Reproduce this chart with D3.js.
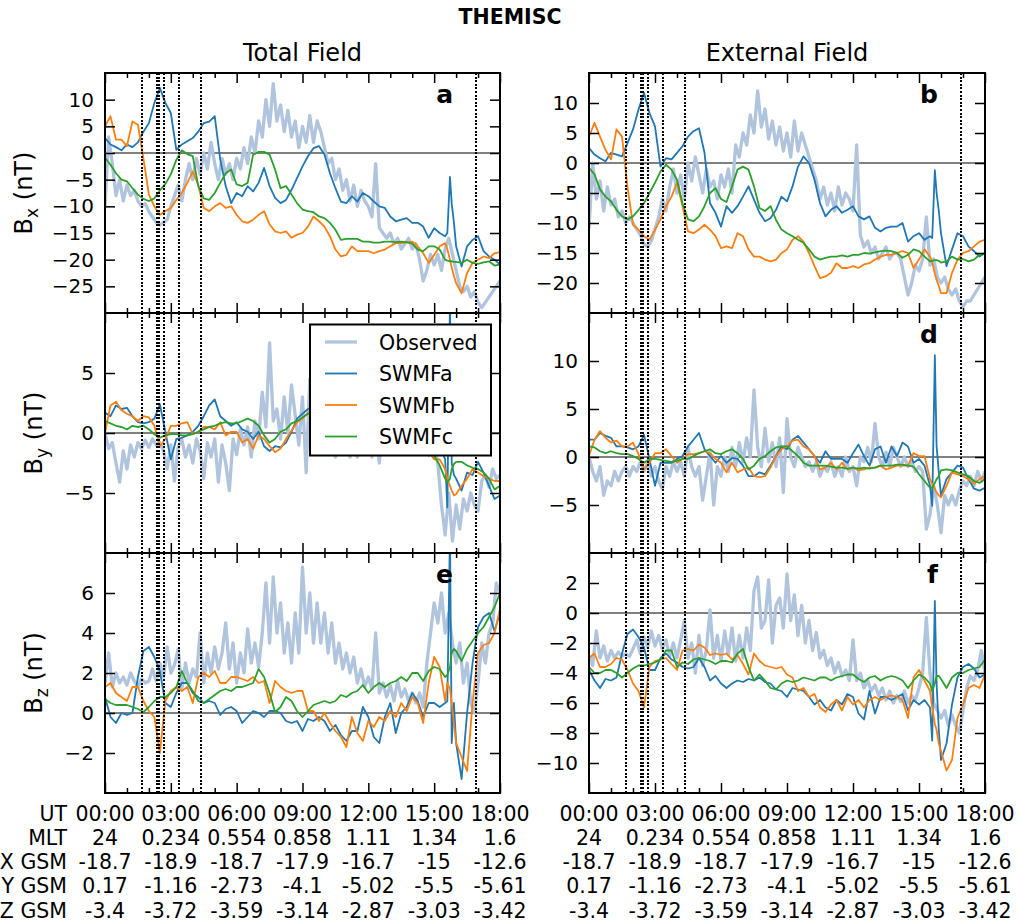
<!DOCTYPE html>
<html><head><meta charset="utf-8">
<script src="https://cdn.jsdelivr.net/npm/d3@7"></script>
<style>body{margin:0;background:#fff} text{font-family:"DejaVu Sans",sans-serif}</style>
</head><body><svg id="chart" width="1020" height="924"></svg>
<script>
// ---------- DATA ----------
const chartTitle = "THEMISC";
const columnTitles = ["Total Field", "External Field"];
const seriesNames = ["Observed", "SWMFa", "SWMFb", "SWMFc"];
const seriesColors = ["#b0c4de", "#1f77b4", "#ff7f0e", "#2ca02c"];

// sample times (hours) for model series
const tMod = [0,0.25,0.5,0.75,1,1.25,1.5,1.75,2,2.25,2.5,2.75,3,3.25,3.5,3.75,4,4.25,4.5,4.75,
  5,5.25,5.5,5.75,6,6.25,6.5,6.75,7,7.25,7.5,7.75,8,8.25,8.5,8.75,9,9.25,9.5,9.75,
  10,10.25,10.5,10.75,11,11.25,11.5,11.75,12,12.25,12.5,12.75,13,13.25,13.5,13.75,14,14.25,14.5,14.75,
  15,15.25,15.5,15.6,15.72,15.8,15.9,16,16.25,16.5,16.75,17,17.25,17.5,17.75,18];
const obsStepHours = 1/6;   // observed series sampled every 10 minutes

// vertical dotted marker times (hours)
const markerTimes = [1.68, 2.37, 2.45, 2.68, 3.37, 4.37, 16.92];

// bottom axis rows
const tickHours = [0,3,6,9,12,15,18];
const rowHeaders = ["UT","MLT","X GSM","Y GSM","Z GSM"];
const utLabels  = ["00:00","03:00","06:00","09:00","12:00","15:00","18:00"];
const mltLabels = ["24","0.234","0.554","0.858","1.11","1.34","1.6"];
const xgsmLabels = ["-18.7","-18.9","-18.7","-17.9","-16.7","-15","-12.6"];
const ygsmLabels = ["0.17","-1.16","-2.73","-4.1","-5.02","-5.5","-5.61"];
const zgsmLabels = ["-3.4","-3.72","-3.59","-3.14","-2.87","-3.03","-3.42"];

// ---- panel a : Bx total ----
const aObs = [
 -10,3,-2,-8,-5,-9, -6,-8,-7,-9,-10,-9.5, -11,-12,-13,-13.5,-13,-12.5, -10,-8,-6,-9,-5,-2,
 -5,-1,-4,0,-3,2, -2,-5,-1,-4,-2,-5, -1,-3,1,-2,3,0, 6,3,10,5,13,6, 9,4,8,3,6,1,
 5,2,7,2,6,4, 1,-2,-1,-5,-3,-7, -5,-9,-6,-10,-7,-9, -10,-12,-2,-14,-15,-16, -15,-17,-16,-18,-17,-16,
 -18,-17,-20,-24,-22,-19, -21,-19,-22,-18,-16,-19, -22,-25,-26,-25,-27,-26, -28,-29,-28,-27,-26,-25, -24];
const aA = [
 2.8,1.6,1.1,0.5, 1.6,1.1,2.0,4.0, 5.6,9.4,12.2,9.4, 7.5,0.6,1.6,2.2, 2.8,4.0,5.6,5.9,
 6.9,-1.2,-6.2,-9.4, -7.5,-8.1,-6.2,-7.2, -5.6,-2.8,-6.2,-8.4, -9.4,-8.8,-6.9,-4.7, -2.5,-0.6,0.9,1.3,
 -0.3,-3.8,-6.6,-9.1, -9.4,-8.1,-9.1,-7.5, -8.1,-9.1,-10,-10.3, -11.9,-12.8,-12.5,-12.2, -13.1,-13.1,-13.8,-15.9,
 -14.1,-15,-15.6, -15,-4.5,-9.5,-13,
 -17.5,-21.3,-17.5,-16.3, -15.6,-18.4,-19.4,-20, -20.9];
const aB = [
 5,6.9,2.5,2.5, 1.3,5.9,5.3,-1, -7.8,-10,-11.6,-10.9, -10.3,-8.8,-7.5,-5.6, -3.5,-6,-10.3,-10.9,
 -10,-9.4,-10.3,-10, -11.6,-12.8,-13.1,-12.5, -11.6,-10.9,-13.4,-14.7, -15,-14.7,-15.9,-15.3, -15,-13.8,-11.9,-12.8,
 -13.8,-15.6,-18.1,-19.4, -19.1,-17.5,-18.4,-18.4, -18.4,-18.8,-18.4,-18.1, -17.5,-16.9,-16.9,-16.8, -16.6,-17.5,-18.8,-20.6,
 -19.1,-17.5,-16.9, -18,-20,-21.5,-23,
 -24.4,-26.3,-22.5,-20.6, -20,-19.4,-19.7,-18.8, -18.6];
const aC = [
 -0.9,-2.2,-3.8,-5, -5.3,-6.6,-7.8,-8.6, -9,-8.5,-7,-5.8, -4,-1.3,0.5,-0.2, -0.6,-6.2,-8.5,-8.8,
 -7.5,-5.6,-3.8,-3.1, -5.9,-6.2,-5.6,-0.3, 0.2,0.2,-0.3,-3.1, -6.6,-6.2,-7.8,-9.4, -10.6,-10.9,-11.1,-11.9,
 -12.2,-13.1,-14.4,-16.3, -16.1,-16.1,-16.1,-16.6, -16.6,-16.8,-16.8,-16.6, -16.6,-16.7,-16.6,-16.7, -17,-18.1,-18.4,-17.5,
 -17.5,-18.1,-20, -20.2,-20.3,-20.3,-20.4,
 -20.4,-20.6,-20,-20.6, -20.8,-20.5,-20.3,-21.1, -20.9];

// ---- panel b : Bx external ----
const bObs = [
 -11,0,-6,-3,-8,-4, -7,-6,-9,-8,-10,-9, -10,-11,-12,-13.5,-14,-13, -11,-9,-6,-8,-4,-1,
 -5,-2,-6,0,-3,1, -2,-5,-1,-4,-3,-6, -2,-4,-1,-5,3,1, 5,3,8,5,12,6, 9,4,7,3,6,2,
 5,1,7,2,5,3, 1,-1,-3,-6,-4,-7, -5,-8,-4,-7,-5,-6, -8,3,-12,-14,-13,-15, -14,-16,-15,-14,-16,-15,
 -15,-16,-19,-22,-20,-17, -18,-16,-9,-17,-16,-19, -20,-19,-21,-22,-21,-23, -24,-23,-23,-22,-21,-20, -19];
const bA = [
 2.5,1.4,0.8,0.3, 1.7,1.4,1.1,3.3, 5.6,8.9,11.7,8.3, 6.1,-0.6,0.8,0.6, 1.7,2.8,4.4,5.3,
 5.8,1.7,-6.7,-8.3, -10.6,-7.2,-8.3,-7.2, -5.6,-3.9,-6.1,-8.3, -9.7,-9.2,-7.8,-5.6, -6.4,-3.9,-0.6,1.1,
 0,-2.8,-6.7,-8.9, -7.8,-7.2,-8.3,-7.8, -7.2,-8.9,-9.4,-8.9, -10.8,-11.4,-10.8,-10.6, -10.6,-10,-13.1,-12.2,
 -11.7,-12.8,-12.2, -12.5,-1.2,-5,-8,
 -11.7,-17.2,-14.4,-11.7, -12.2,-13.9,-14.7,-15.6, -15];
const bB = [
 4.4,6.7,4.4,2.2, 0.6,5.6,4.4,-4, -10.3,-11.1,-12.2,-12.8, -11.1,-9.4,-7.2,-5.6, -3.3,-7.2,-11.4,-11.7,
 -11.1,-10.3,-11.1,-12.2, -14.2,-13.9,-14.2,-11.7, -12.2,-14.4,-15.6,-15.6, -16.1,-16.4,-16.1,-15, -14.4,-12.8,-12.2,-13.1,
 -15,-17.2,-19.2,-18.9, -18.3,-16.7,-17.5,-17.5, -17.2,-17.5,-16.9,-16.7, -16.1,-15.6,-15.3,-15.3, -15,-14.7,-15,-17.5,
 -16.1,-14.4,-15.6, -16.5,-18.5,-19.5,-20.5,
 -21.7,-21.7,-18.3,-16.1, -15,-14.7,-13.9,-13.1, -12.8];
const bC = [
 -0.8,-1.9,-4.4,-5.6, -6.4,-7.8,-8.9,-9.4, -8.9,-7.8,-6.7,-5, -3.3,-1.4,-0.3,-1.1, -2.8,-6.7,-9.4,-9.7,
 -8.9,-7.2,-5,-4.2, -6,-6.5,-3.9,-1.1, -0.6,-1.1,-3.9,-7.5, -8,-7.2,-9.5,-11.1, -11.7,-12.2,-12.8,-13.3,
 -14.4,-15.6,-16.1,-15.8, -15.6,-15.6,-15.4,-15.6, -15.3,-15.3,-15,-15.1, -14.9,-14.7,-14.6,-14.7, -15,-15.8,-15.3,-14.4,
 -14.7,-15.6,-16.4, -16.3,-16.2,-16.2,-16.3,
 -16.6,-16.4,-15.6,-16.1, -16,-16.4,-16.1,-15.3, -15.1];

// ---- panel c : By total ----
const cObs = [
 0,-1.3,-0.8,-2.5,-4.1,-1.5, -3,-1,-2,-0.8,-1.3,-0.6, -1.2,-0.5,-1,-0.8,-1.5,-3, -1,-4,-1.2,-0.5,-2,-1,
 -2.5,-0.5,-1.5,-3.8,-0.8,-2, -0.5,-4.1,-1,-2.5,-4.8,-0.5, -1.8,0.3,-1,0.5,-2,1, -0.5,3.4,0.5,7.5,1,2, -0.5,3,0,4,1.5,-1,
 3,-3.3,4.5,1,0,-1, -0.5,-1.5,-0.5,-2,-1,-1.5, -0.5,-2,-1,-2,0,-1.5, -1,-2,0,-2.5,1,-0.5, 2,0,-1,0.5,-1,1,
 0,-1,0,-1.5,-1,-1.5, -1,-2.5,-6,-8.5,-5,-9, -6,-8,-5.5,-6.5,-5,-6, -6.5,-4,-3.5,-4.5,-3,-3.8, -3.5];
const cA = [
 1.7,1.4,2.3,2, 2.1,1.4,0.9,0.8, 0.9,1.2,2.4,0.1, -2.2,-0.5,-0.4,-0.2, 0.1,0.6,1.4,2.3,
 2.8,1.4,1,0.6, 0.9,0.3,0.1,-0.5, 0.1,-1.1,-1.5,-1.1, -1.2,-0.8,0.1,1.2, 1.6,2,2.2,1.5,
 0.8,0.1,-0.6,0.6, -0.2,-0.2,-0.2,-0.6, 0.4,1.3,0.1,-0.9, 0.8,1.1,-0.6,1.1, 0.1,1.5,1.1,-1.9,
 -1,-1.1,-2.2, -6.2,11,-2.5,-3.5,
 -3.8,-4.8,-3.3,-3.5, -2.4,-3.3,-4.4,-5.5, -5.2];
const cB = [
 0,2.3,2.6,1.9, 1.6,1.4,1,1.4, 1.3,0.6,-1.1,-0.5, 0.6,0.6,0.8,0.9, -0.1,0.1,0.5,0.5,
 0.3,0.9,-0.2,0.1, 0.1,-0.8,-0.5,-1.3, -0.2,-0.5,-1.1,-1.6, -1.3,-0.5,0.2,0.9, 1.2,1.7,1.8,1.1,
 0.8,0.1,-1.3,-1.1, -0.6,-1.3,-0.6,-1.3, -1.1,-1.4,-1.3,-1.1, -1.1,-0.9,-1.3,-1.1, -0.9,-0.9,-0.9,-1.5,
 -2.2,-2.2,-3, -3.8,-4.4,-4.8,-5.2,
 -5.1,-4.4,-3.8,-3, -3.3,-3.6,-3.8,-4, -4];
const cC = [
 1,0.8,0.6,0.5, 0.3,0.6,0.5,0.6, 0.3,-0.1,-0.4,-0.2, -0.1,-0.1,-0.2,-0.2, -0.1,0.1,0.3,0.5,
 0.6,0.8,0.9,0.8, 0.8,1,1.2,1, 0.6,-0.2,-0.8,-0.5, 0.1,0.3,0.8,1, 1.3,1.6,1.6,1.2,
 0.8,0.4,0,-0.3, -0.5,-0.6,-0.7,-0.8, -0.8,-0.8,-0.8,-0.8, -0.8,-0.7,-0.7,-0.7, -0.6,-0.7,-1,-1.5,
 -1.9,-2.7,-3.8, -4.1,-3.8,-3,-2.6,
 -2.4,-2.4,-2.7,-2.9, -3,-3.3,-3.8,-4.7, -4.4];

// ---- panel d : By external ----
const dObs = [
 0,-1.5,-2.5,-1,-4,-2.5, -3,-1.5,-2.5,-1.5,-1,-2, -1,-1.5,-0.5,-1.5,-0.5,-2, -1,-2.5,-3.3,-1,-2,-0.5,
 -1.5,-0.5,-2,1,-1,-2, -1,-4.5,-2,0.5,-5,-1, -2,0,-1.5,1,-1,1.5, -0.5,2,0,7,1,-1, 3,-0.5,1.5,-1,2,-3.7,
 4,0,-1,1,0,-1, -0.5,-1.5,-0.5,-2,-1,-1.5, -0.5,-2,-1,-2,0,-1.5, -1,-3,0,-0.5,1,-0.5, 3.5,0,-1,0.5,-1,1,
 0,-1,0,-1,-0.5,-1.5, -1,-1.5,-7.5,-6,-3,-5, -7.9,-4,-5,-4,-5,-3.5, -2.5,-3,-2,-3,-1.5,-2.5, -1.5];
const dA = [
 1.8,1.8,2.5,2.2, 2,1.1,1.1,1, 0.8,1.1,2.3,-0.2, -3,-0.6,-0.6,-0.6, -0.2,0.1,1.1,1.8,
 2.5,0.8,0.1,-0.6, 0.1,-0.6,-0.1,-0.2, -0.9,-2,-2,-1.6, -1.8,-0.9,0.1,1.1, 0.8,1.8,2.2,1.5,
 0.8,0.1,-0.6,0.6, -0.2,-0.2,-0.2,-0.6, 0.4,1.3,0.1,-0.9, 0.8,1.1,-0.6,1.1, 0.1,1.5,1.1,-0.6,
 -0.2,-0.9,-3, -5.1,10.6,1.1,-1.6,
 -4,-2.3,-1.6,-0.9, -1.1,-2.3,-3.3,-3.5, -3.2];
const dB = [
 0.1,1.8,2.7,2, 1.5,1.7,1.1,1.1, 1.5,0.3,-1.3,-0.6, 0.4,0.4,0.8,0.1, -0.6,-0.2,0.3,0.3,
 0.4,0.6,0.4,-0.2, -0.6,-1.6,-0.6,-1.6, -1.3,-1.1,-2,-2.1, -2,-1.1,0.1,0.8, 1.1,1.7,1.8,1.1,
 0.8,0.1,-1.3,-1.1, -0.6,-1.3,-0.6,-1.3, -1.1,-1.4,-1.3,-1.1, -1.1,-0.9,-1.3,-1.1, -0.9,-0.9,-0.9,0.4,
 0.1,0.1,-2.3, -2.8,-3.3,-3.7,-4,
 -4.2,-3,-1.6,-1.8, -2,-2.3,-2.8,-2.3, -2];
const dC = [
 1.1,1,0.6,0.4, 0.6,0.4,0.3,0.3, 0.1,-0.2,-0.6,-0.2, -0.2,-0.3,-0.4,-0.5, -0.4,-0.2,-0.2,0.1,
 0.4,0.6,0.8,0.4, 0.3,0.6,0.8,0.4, -0.2,-1.3,-0.9,-0.2, 0.1,0.6,1,1.1, 1.1,0.6,0.1,-0.6,
 -0.9,-0.9,-0.9,-0.9, -1,-1.1,-1.1,-1.2, -1.1,-1.2,-1.1,-1.2, -1.1,-0.9,-0.9,-0.9, -0.8,-0.8,-0.9,-1,
 -1.8,-2.5,-3.2, -3.2,-2.7,-2.3,-2,
 -1.4,-1.3,-1.4,-1.6, -1.8,-2,-2.5,-2.7, -2.3];

// ---- panel e : Bz total ----
const eObs = [
 1.5,3,1.3,2,1.5,1.8, 1.4,2,1.6,1.3,1.7,1.5, 1.6,2.2,1.6,2.5,1.8,3.3, 2,2.4,3.2,1.2,2.5,1.5,
 2.2,1.8,4,1.5,3,2, 3.3,2.2,3,4.5,2.2,3.5, 1.5,3,2,4.2,2.5,3.5, 2.3,4,6.5,3.5,6.8,4, 5.5,3,4.5,2.5,5,3,
 7.3,4,6,3.5,5.5,3.5, 5,3,4.5,2.5,3.5,2.2, 3,2,2.8,1.5,2.2,1.3, 1.8,1.2,4,1,1.5,0.8, 1.4,0.6,1.6,0.8,1.2,0.6,
 1,0.5,1,0.3,2.5,4, 5.5,4.5,6,4,5,3.5, 2.5,3.5,1.5,2.5,0.5,0, 1.5,3.5,2.5,4,4.5,6.5, 6];
const eA = [
 0.8,-0.2,-0.5,0, -0.1,0,1.8,3.1, 3.3,2.8,2.1,0.5, 0.3,1,1.5,1.5, 1,0.8,0.5,0.6,
 0.5,-0.1,0.2,0.3, 0.1,-0.5,-0.2,0.1, 0,-0.2,0.1,0.1, 0,-0.4,-0.5,-0.4, -0.9,-0.3,-0.4,-0.2,
 -0.4,-0.9,-0.6,-1.1, -1.4,-0.9,-0.9,0.3, -0.2,-1.2,-1.5,-0.2, 0.5,-1,0,0.3, 1,0.6,-0.2,0.5,
 0.5,0.3,0.5, 0.6,9,-1.5,0.5,
 -1.5,-3.3,0,2.5, 4.3,4.8,5,4.1, 5];
const eB = [
 1.3,1.5,1,0.8, 0.6,1.3,1.3,0.6, 0.1,-0.2,-2,0.6, 1.1,1.3,1.1,1.3, 0.5,1.8,2,1.8,
 2.1,1.5,1.5,1.8, 1.8,1.7,1.6,1.8, 1.5,1.6,0.5,1.6, 1.3,1.1,1,1.1, 1.1,0.1,0.1,-0.4,
 0,-0.5,-0.9,-1.2, -1.7,-0.2,-1,-1.4, -0.4,-0.7,-0.2,-0.4, 0.1,-0.2,0.5,0.1, 0.8,0.5,-0.5,1.5,
 2.8,2.3,0.6, 1.5,1.2,0.5,-0.5,
 -1.5,-2.2,-2.9,0.5, 3,3.4,3.5,4, 5.2];
const eC = [
 0.7,0.5,0.4,0.4, 0.4,0.3,0.2,0.05, 0.3,0.6,0.8,0.8, 1,1.3,2.1,1.5, 1.1,0.6,0.5,0.7,
 0.9,1.1,1.2,1.1, 1.3,1.3,1.4,1.5, 2.2,1.8,1,0.05, 0.3,0.8,0.6,0.1, -0.2,0.1,0.4,0.5,
 0.6,0.5,0.6,0.9, 0.8,1,1.1,1.4, 1,1.3,1.5,1.3, 1.5,1.6,1.8,1.6, 2,2,1.6,2.1,
 2.3,2.2,1.8, 1.9,2.3,3,3.2,
 3.1,2.6,3.2,3.6, 4,4.3,4.8,5.3, 6];

// ---- panel f : Bz external ----
const fObs = [
 -2.8,-3.5,-1.2,-3,-2.2,-3.2, -2.5,-3,-2.6,-2.9,-2.7,-2.9, -2.4,-1.8,-2.7,-1.6,-2.3,-1.2, -2.2,-1.5,-2.4,-1.8,-2.9,-2,
 -3,-1.8,-0.5,-3,-2,-4, -1.5,-3.5,-2.5,0.2,-3,-1.5, -3.2,-1.2,-2.8,-1,-3.2,-1.5, -3,-1,-2.5,1.5,2.4,-1, -0.5,2.2,-2,0.5,1,-1,
 2.6,-0.5,1.2,-1.5,0.5,-2, -0.5,-2.5,-1.3,-3,-2.5,-3.5, -3,-4,-3.3,-4.2,-3.8,-4.5, -1.8,-4.5,-4,-5,-4.5,-5.2, -4.8,-5.5,-5,-5.8,-5.2,-6,
 -5.5,-5.9,-5.2,-6,-5.5,-5.8, -5,-4,-0.3,-4,-6,-6.5, -7,-6.5,-7.5,-6.8,-7.5,-8, -6.5,-5,-4.2,-4.5,-3.8,-2.5, -4];
const fA = [
 -3.8,-4.5,-5,-4.4, -4.5,-4.3,-2.7,-1.4, -1.1,-1.6,-2.3,-3.8, -3.8,-3,-2.7,-3.1, -3.3,-3.6,-3.7,-3.6,
 -3,-3.6,-4.5,-4.2, -4.7,-5,-4.7,-4.5, -4.6,-4.4,-4.5,-4.3, -4.6,-4.7,-5.1,-5.2, -5.6,-5,-5.1,-5.2,
 -5.6,-6.1,-5.8,-6.3, -6.5,-5.8,-6.1,-5.4, -5.6,-6.7,-7.1,-5.2, -6.7,-5.6,-5.6,-5.8, -5.6,-5.4,-6.5,-5.8,
 -6.1,-5.8,-6.3, -8.5,0.8,-4.7,-7.8,
 -9.8,-8.7,-6.1,-4.3, -3.6,-3.4,-3.7,-4.3, -4.1];
const fB = [
 -3,-2.7,-3.6,-3.6, -3.4,-3,-3.1,-3.8, -4.7,-5.2,-6.3,-3.6, -3.2,-3.1,-3,-3.4, -3.8,-2.5,-2.4,-2.5,
 -2.1,-2.3,-2.8,-2.7, -2.8,-2.7,-3.1,-2.8, -3.4,-4.1,-2.7,-3.2, -3.5,-3.6,-3.7,-3.6, -4.1,-4.3,-5.2,-5,
 -5.6,-5.4,-6.3,-6.6, -6.1,-5.8,-6.5,-5.6, -6.1,-5.8,-6.3,-5.8, -5.6,-5.8,-5.6,-5.5, -5.6,-5.8,-7,-4.3,
 -3.8,-4.5,-5.2, -6.3,-7.4,-7.8,-8.7,
 -9.2,-10.5,-9.8,-7, -6.1,-5,-4.8,-5, -4.1];
const fC = [
 -3.6,-4,-4,-3.8, -3.8,-4,-4.3,-4, -3.7,-3.5,-3.5,-3.4, -3.3,-3.1,-2.5,-2.5, -3.6,-3.3,-3.4,-3.1,
 -3,-3.1,-3.2,-3.4, -3.2,-3.2,-3.3,-2.7, -2.4,-3.6,-4.5,-4.1, -4.5,-5,-5.1,-4.7, -4.5,-4.6,-4.5,-4.3,
 -4.4,-4.5,-4.3,-4.3, -4.5,-4.3,-4.2,-4.1, -4.1,-4.4,-4.6,-4.3, -4.2,-4.5,-4.3,-4.2, -4.3,-4.5,-5,-4.5,
 -4.1,-4.3,-4.7, -5.2,-4.7,-4.2,-4.2,
 -4.4,-5,-4.3,-4, -4,-3.8,-3.7,-3.6, -3.1];

// y-axis domains and tick labels per panel
const aDomain = [-30,15], aTicks = [-25,-20,-15,-10,-5,0,5,10];
const bDomain = [-25,15], bTicks = [-20,-15,-10,-5,0,5,10];
const cDomain = [-10,10], cTicks = [-5,0,5];
const dDomain = [-10,15], dTicks = [-5,0,5,10];
const eDomain = [-4,8],   eTicks = [-2,0,2,4,6];
const fDomain = [-12,4],  fTicks = [-10,-8,-6,-4,-2,0,2];

// ---------- LAYOUT ----------
const W = 1020, H = 924;
const cols = [{x0:105, x1:500}, {x0:589, x1:985}];
const rows = [{y0:73, y1:313}, {y0:313, y1:553}, {y0:553, y1:793}];
const FONT = '"DejaVu Sans", sans-serif';

// panel 'c' letter is hidden behind the legend in the reference, so it is not drawn
const panels = [
  {key:'a', col:0, row:0, domain:aDomain, ticks:aTicks, obs:aObs, models:[aA,aB,aC], comp:'x', letter:true},
  {key:'b', col:1, row:0, domain:bDomain, ticks:bTicks, obs:bObs, models:[bA,bB,bC], letter:true},
  {key:'c', col:0, row:1, domain:cDomain, ticks:cTicks, obs:cObs, models:[cA,cB,cC], comp:'y', letter:false},
  {key:'d', col:1, row:1, domain:dDomain, ticks:dTicks, obs:dObs, models:[dA,dB,dC], letter:true},
  {key:'e', col:0, row:2, domain:eDomain, ticks:eTicks, obs:eObs, models:[eA,eB,eC], comp:'z', letter:true},
  {key:'f', col:1, row:2, domain:fDomain, ticks:fTicks, obs:fObs, models:[fA,fB,fC], letter:true},
];

const svg = d3.select('#chart');
svg.append('rect').attr('width', W).attr('height', H).attr('fill', '#fff');

svg.append('text').attr('x', 510).attr('y', 24).attr('text-anchor', 'middle')
  .style('font-family', FONT).style('font-size', '20.5px').style('font-weight', 'bold').text(chartTitle);
columnTitles.forEach((t, i) => {
  svg.append('text').attr('x', (cols[i].x0 + cols[i].x1) / 2).attr('y', 61).attr('text-anchor', 'middle')
    .style('font-family', FONT).style('font-size', '24px').text(t);
});

const defs = svg.append('defs');
const ylabelX = {x: 31.5, y: 42, z: 42};

panels.forEach(p => {
  const c = cols[p.col], r = rows[p.row];
  const x = d3.scaleLinear().domain([0, 18]).range([c.x0, c.x1]);
  const y = d3.scaleLinear().domain(p.domain).range([r.y1, r.y0]);
  const clipId = 'clip-' + p.key;
  defs.append('clipPath').attr('id', clipId).append('rect')
    .attr('x', c.x0).attr('y', r.y0).attr('width', c.x1 - c.x0).attr('height', r.y1 - r.y0);
  const g = svg.append('g');
  const plot = g.append('g').attr('clip-path', `url(#${clipId})`);

  // zero line
  const y0 = Math.round(y(0));
  plot.append('line').attr('x1', c.x0).attr('x2', c.x1).attr('y1', y0).attr('y2', y0)
    .attr('stroke', '#808080').attr('stroke-width', 2);

  const obsTimes = p.obs.map((v, i) => i * obsStepHours);
  const lineObs = d3.line().x((d, i) => x(obsTimes[i])).y(d => y(d));
  plot.append('path').datum(p.obs).attr('d', lineObs).attr('fill', 'none')
    .attr('stroke', seriesColors[0]).attr('stroke-width', 3.3).attr('stroke-linejoin', 'round');

  const lineMod = d3.line().x((d, i) => x(tMod[i])).y(d => y(d));
  p.models.forEach((m, k) => {
    plot.append('path').datum(m).attr('d', lineMod).attr('fill', 'none')
      .attr('stroke', seriesColors[k + 1]).attr('stroke-width', 1.8).attr('stroke-linejoin', 'round');
  });

  // dotted markers
  plot.selectAll('line.marker').data(markerTimes).enter().append('line')
    .attr('x1', d => Math.round(x(d))).attr('x2', d => Math.round(x(d))).attr('y1', r.y0).attr('y2', r.y1)
    .attr('stroke', '#000').attr('stroke-width', 2).attr('stroke-dasharray', '2,1.6')
    .attr('shape-rendering', 'crispEdges');

  // axes (inward ticks on all sides)
  const yl = g.append('g').attr('transform', `translate(${c.x0},0)`)
    .call(d3.axisLeft(y).tickValues(p.ticks).tickSize(-10).tickPadding(11).tickFormat(d3.format('d')));
  const yr = g.append('g').attr('transform', `translate(${c.x1},0)`)
    .call(d3.axisRight(y).tickValues(p.ticks).tickSize(-10).tickFormat(''));
  const majors = tickHours;
  const minors = d3.range(0, 19).filter(h => h % 3 !== 0);
  const xb1 = g.append('g').attr('transform', `translate(0,${r.y1})`)
    .call(d3.axisBottom(x).tickValues(majors).tickSize(-10).tickFormat(''));
  const xb2 = g.append('g').attr('transform', `translate(0,${r.y1})`)
    .call(d3.axisBottom(x).tickValues(minors).tickSize(-5).tickFormat(''));
  const xt1 = g.append('g').attr('transform', `translate(0,${r.y0})`)
    .call(d3.axisTop(x).tickValues(majors).tickSize(-10).tickFormat(''));
  const xt2 = g.append('g').attr('transform', `translate(0,${r.y0})`)
    .call(d3.axisTop(x).tickValues(minors).tickSize(-5).tickFormat(''));
  [yl, yr, xb1, xb2, xt1, xt2].forEach(ax => {
    ax.select('.domain').remove();
    ax.selectAll('line').attr('stroke', '#000').attr('stroke-width', 1.5);
  });
  yl.selectAll('text').style('font-family', FONT).style('font-size', '20px').attr('fill', '#000');

  // frame
  g.append('rect').attr('x', c.x0).attr('y', r.y0).attr('width', c.x1 - c.x0).attr('height', r.y1 - r.y0)
    .attr('fill', 'none').attr('stroke', '#000').attr('stroke-width', 2);

  // panel letter
  if (p.letter) {
    g.append('text').attr('x', c.x1 - 47).attr('y', r.y0 + 30).attr('text-anchor', 'end')
      .style('font-family', FONT).style('font-size', '25px').style('font-weight', 'bold').text(p.key);
  }

  // y label
  if (p.comp) {
    const t = svg.append('text')
      .attr('transform', `translate(${ylabelX[p.comp]},${(r.y0 + r.y1) / 2}) rotate(-90)`)
      .attr('text-anchor', 'middle').style('font-family', FONT).style('font-size', '24px');
    t.append('tspan').text('B');
    t.append('tspan').attr('dy', 6).style('font-size', '17px').text(p.comp);
    t.append('tspan').attr('dy', -6).text(' (nT)');
  }

  // bottom labels for bottom row
  if (p.row === 2) {
    const rowsTxt = [utLabels, mltLabels, xgsmLabels, ygsmLabels, zgsmLabels];
    rowsTxt.forEach((labels, k) => {
      const by = 820.5 + k * 24.3;
      labels.forEach((lab, i) => {
        svg.append('text').attr('x', x(tickHours[i])).attr('y', by).attr('text-anchor', 'middle')
          .style('font-family', FONT).style('font-size', '20.5px').text(lab);
      });
      if (p.col === 0) {
        svg.append('text').attr('x', 67).attr('y', by).attr('text-anchor', 'end')
          .style('font-family', FONT).style('font-size', '20.5px').text(rowHeaders[k]);
      }
    });
  }

  // legend in panel c
  if (p.key === 'c') {
    const lg = svg.append('g').attr('transform', 'translate(310,324.5)');
    lg.append('rect').attr('width', 181).attr('height', 131).attr('fill', '#fff')
      .attr('stroke', '#000').attr('stroke-width', 2);
    seriesNames.forEach((nm, k) => {
      const cy = 17.5 + k * 31.5;
      lg.append('line').attr('x1', 15).attr('x2', 47).attr('y1', cy).attr('y2', cy)
        .attr('stroke', seriesColors[k]).attr('stroke-width', k === 0 ? 3.3 : 1.8);
      lg.append('text').attr('x', 69).attr('y', cy + 7.5)
        .style('font-family', FONT).style('font-size', '20.5px').text(nm);
    });
  }
});
</script>
</body></html>
